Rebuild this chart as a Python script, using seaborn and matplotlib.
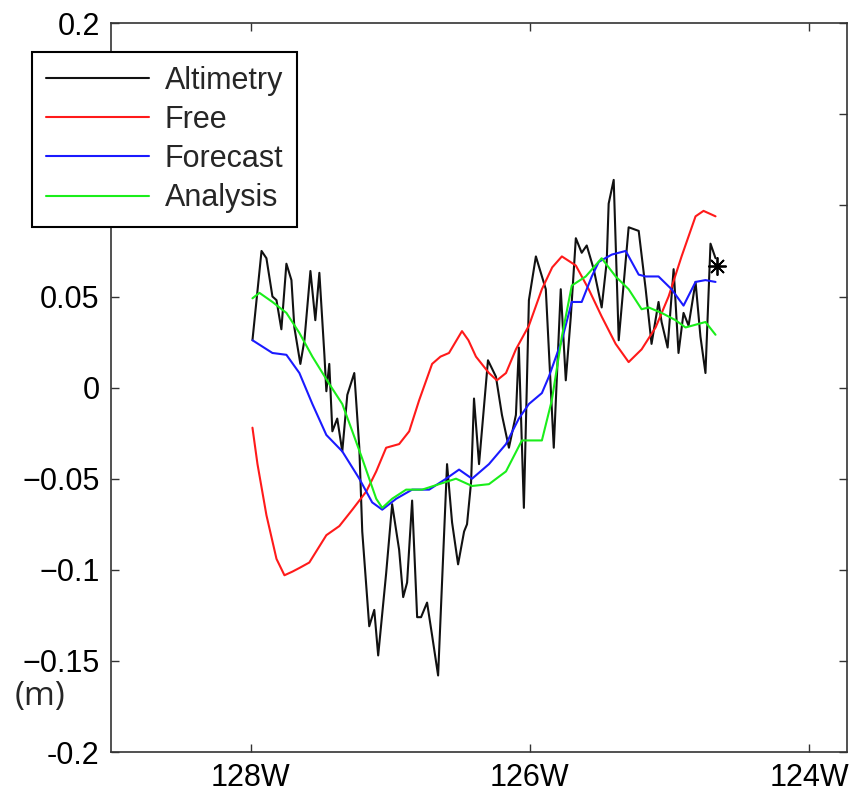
import numpy as np
import pandas as pd
import seaborn as sns
import matplotlib
matplotlib.use('Agg')
import matplotlib.pyplot as plt

# longitudes (deg, negative = W) and sea surface height (m)
alt_lon = [-127.986, -127.921, -127.886, -127.843, -127.814, -127.779, -127.743, -127.707,
           -127.686, -127.643, -127.614, -127.571, -127.536, -127.507, -127.471, -127.457,
           -127.436, -127.414, -127.379, -127.343, -127.307, -127.257, -127.221, -127.200,
           -127.150, -127.114, -127.086, -127.029, -126.986, -126.936, -126.907, -126.879,
           -126.843, -126.807, -126.779, -126.736, -126.700, -126.657, -126.593, -126.557,
           -126.514, -126.471, -126.450, -126.421, -126.400, -126.364, -126.300, -126.243,
           -126.200, -126.150, -126.100, -126.079, -126.043, -126.007, -125.957, -125.886,
           -125.829, -125.779, -125.743, -125.707, -125.671, -125.629, -125.593, -125.543,
           -125.486, -125.450, -125.436, -125.400, -125.364, -125.293, -125.221, -125.171,
           -125.129, -125.079, -125.057, -125.014, -124.971, -124.936, -124.900, -124.864,
           -124.814, -124.779, -124.743, -124.707, -124.671]
alt_ssh = [0.026, 0.075, 0.071, 0.050, 0.048, 0.032, 0.068, 0.059,
           0.033, 0.013, 0.026, 0.064, 0.037, 0.063, 0.018, -0.002,
           0.013, -0.024, -0.017, -0.035, -0.004, 0.008, -0.033, -0.079,
           -0.131, -0.122, -0.147, -0.102, -0.064, -0.089, -0.115, -0.107,
           -0.062, -0.126, -0.126, -0.118, -0.136, -0.158, -0.042, -0.074,
           -0.097, -0.079, -0.075, -0.052, -0.006, -0.042, 0.015, 0.006,
           -0.015, -0.033, -0.015, 0.022, -0.066, 0.048, 0.072, 0.054,
           -0.033, 0.054, 0.004, 0.039, 0.082, 0.074, 0.078, 0.065,
           0.044, 0.069, 0.101, 0.114, 0.026, 0.088, 0.086, 0.054,
           0.024, 0.047, 0.036, 0.022, 0.065, 0.019, 0.041, 0.034,
           0.058, 0.028, 0.008, 0.079, 0.071]

free_lon = [-127.986, -127.950, -127.886, -127.814, -127.757, -127.700, -127.650, -127.579,
            -127.457, -127.364, -127.271, -127.171, -127.100, -127.029, -126.936, -126.864,
            -126.793, -126.700, -126.640, -126.579, -126.486, -126.440, -126.386, -126.293,
            -126.236, -126.171, -126.100, -126.007, -125.914, -125.840, -125.771, -125.671,
            -125.579, -125.486, -125.386, -125.293, -125.200, -125.100, -125.007, -124.914,
            -124.814, -124.757, -124.671]
free_ssh = [-0.022, -0.042, -0.070, -0.094, -0.103, -0.101, -0.099, -0.096,
            -0.081, -0.076, -0.067, -0.057, -0.046, -0.033, -0.031, -0.024,
            -0.007, 0.013, 0.017, 0.019, 0.031, 0.026, 0.017, 0.008,
            0.004, 0.008, 0.021, 0.034, 0.054, 0.066, 0.072, 0.067,
            0.054, 0.039, 0.024, 0.014, 0.021, 0.033, 0.050, 0.072,
            0.094, 0.097, 0.094]

fc_lon = [-127.986, -127.843, -127.743, -127.650, -127.557, -127.457, -127.343, -127.221,
          -127.129, -127.057, -126.957, -126.843, -126.721, -126.600, -126.507, -126.414,
          -126.293, -126.171, -126.079, -126.007, -125.914, -125.864, -125.771, -125.700,
          -125.629, -125.557, -125.507, -125.414, -125.314, -125.221, -125.171, -125.079,
          -124.986, -124.900, -124.814, -124.743, -124.671]
fc_ssh = [0.026, 0.019, 0.018, 0.008, -0.009, -0.026, -0.035, -0.050,
          -0.063, -0.067, -0.061, -0.056, -0.056, -0.050, -0.045, -0.050,
          -0.042, -0.031, -0.017, -0.009, -0.003, 0.006, 0.026, 0.047,
          0.047, 0.061, 0.069, 0.073, 0.075, 0.062, 0.061, 0.061,
          0.054, 0.045, 0.058, 0.059, 0.058]

an_lon = [-127.986, -127.936, -127.843, -127.743, -127.650, -127.557, -127.436, -127.343,
          -127.271, -127.200, -127.100, -127.057, -126.986, -126.886, -126.771, -126.650,
          -126.529, -126.414, -126.293, -126.171, -126.057, -125.914, -125.843, -125.771,
          -125.700, -125.600, -125.486, -125.386, -125.293, -125.200, -125.150, -125.057,
          -124.957, -124.886, -124.743, -124.671]
an_ssh = [0.049, 0.052, 0.047, 0.041, 0.030, 0.017, 0.002, -0.009,
          -0.024, -0.039, -0.061, -0.066, -0.061, -0.056, -0.056, -0.053,
          -0.050, -0.054, -0.053, -0.046, -0.029, -0.029, -0.007, 0.028,
          0.056, 0.061, 0.071, 0.061, 0.054, 0.043, 0.044, 0.041,
          0.037, 0.033, 0.036, 0.029]

star_lon = [-124.664]
star_ssh = [0.067]

sns.set_style('ticks')
plt.rcParams['font.family'] = ['Liberation Sans', 'DejaVu Sans']

fig = plt.figure(figsize=(8.59, 8.0), dpi=100)
ax = fig.add_axes([0.129, 0.06, 0.857, 0.911])

sns.lineplot(x=alt_lon, y=alt_ssh, sort=False, color='#111111', lw=1.5, label='Altimetry', ax=ax)
sns.lineplot(x=free_lon, y=free_ssh, sort=False, color='#ff1a1a', lw=1.5, label='Free', ax=ax)
sns.lineplot(x=fc_lon, y=fc_ssh, sort=False, color='#1a1aff', lw=1.5, label='Forecast', ax=ax)
sns.lineplot(x=an_lon, y=an_ssh, sort=False, color='#1aee1a', lw=1.5, label='Analysis', ax=ax)
ax.plot(star_lon, star_ssh, marker=(8, 2, 0), ms=13, mew=1.3, color='black', ls='none')

ax.set_xlim(-129, -123.73)
ax.set_ylim(-0.2, 0.2)
ax.set_xticks([-128, -126, -124])
ax.set_xticklabels(['128W', '126W', '124W'])
yt = np.arange(-0.2, 0.201, 0.05)
ax.set_yticks(yt)
ax.set_yticklabels(['-0.2', '\u22120.15', '\u22120.1', '\u22120.05', '0',
                    '0.05', '0.1', '0.15', '0.2'])
ax.tick_params(direction='in', length=6, width=1, top=True, right=True,
               labelsize=22, pad=8, colors='#333333', labelcolor='black')
for s in ax.spines.values():
    s.set_visible(True)
    s.set_linewidth(1.2)
    s.set_color('#333333')

leg = ax.legend(loc='upper left', bbox_to_anchor=(0.037, 0.935),
                bbox_transform=fig.transFigure, borderaxespad=0,
                fontsize=22, handlelength=3.4, handletextpad=0.5,
                labelspacing=0.3, borderpad=0.45, fancybox=False,
                framealpha=1, edgecolor='black')
leg.get_frame().set_linewidth(1.5)

fig.text(0.017, 0.150, '(m)', fontsize=24, family=['Open Sans', 'DejaVu Sans'],
         va='top', ha='left')

fig.savefig('out.png', dpi=100)
